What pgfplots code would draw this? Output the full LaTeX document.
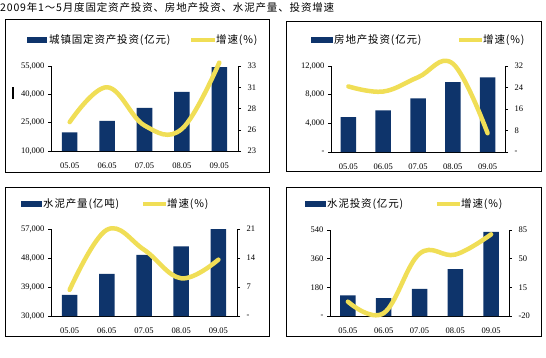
\documentclass[border=0pt]{standalone}
\usepackage{pgfplots}
\pgfplotsset{compat=1.18}
\usepackage{fontspec}
\setmainfont{Liberation Serif}
\newfontfamily\cjk[LetterSpace=8]{Noto Sans CJK SC}
\definecolor{barblue}{RGB}{14,52,107}
\definecolor{lineyel}{RGB}{240,222,86}
\pgfplotsset{
  baraxis/.style={scale only axis, anchor=south west,
    xmin=-0.5, xmax=4.5, axis x line*=bottom, axis y line*=left,
    axis line style={black, line width=0.6pt},
    xtick={0,...,4}, xticklabels={05.05,06.05,07.05,08.05,09.05},
    x tick style={draw=none}, tick align=outside, major tick length=3pt,
    y tick style={black, line width=0.5pt},
    scaled y ticks=false,
    tick label style={font=\fontsize{8.5}{9}\selectfont},
    xticklabel style={yshift=-5pt},
    ybar, bar width=15.5pt, clip=true},
  lineaxis/.style={scale only axis, anchor=south west,
    xmin=-0.5, xmax=4.5, axis x line=none, axis y line*=right,
    axis line style={black, line width=0.6pt},
    tick align=outside, major tick length=3pt,
    y tick style={black, line width=0.5pt},
    scaled y ticks=false,
    tick label style={font=\fontsize{8.5}{9}\selectfont},
    yticklabel style={xshift=3pt},
    clip=false},
  barplot/.style={fill=barblue, draw=none},
  growth/.style={lineyel, line width=4.5pt, smooth, tension=0.65, line cap=round, line join=round, mark=none}
}
\begin{document}
\begin{tikzpicture}
\useasboundingbox (0pt,0pt) rectangle (546pt,357pt);
% title
\node[anchor=west, inner sep=0pt, font=\cjk\fontsize{10.5}{12}\selectfont] at (0pt,349pt) {2009年1～5月度固定资产投资、房地产投资、水泥产量、投资增速};
% frames
\draw[black, line width=0.8pt] (5pt,185pt) rectangle (269pt,338pt);
\draw[black, line width=0.8pt] (286pt,186pt) rectangle (541pt,336pt);
\draw[black, line width=0.8pt] (5pt,21pt) rectangle (269pt,170pt);
\draw[black, line width=0.8pt] (286pt,21pt) rectangle (541pt,170pt);
% cursor artifact
\draw[black, line width=1.6pt] (13pt,258pt) -- (13pt,270pt);

% ---------- Panel 1 ----------
\begin{axis}[baraxis, at={(51pt,206pt)}, width=187pt, height=85pt,
  ymin=10000, ymax=55000, ytick={10000,25000,40000,55000},
  yticklabels={{10,000},{25,000},{40,000},{55,000}}]
\addplot[barplot] coordinates {(0,19800) (1,25900) (2,32800) (3,41300) (4,54400)};
\end{axis}
\begin{axis}[lineaxis, at={(51pt,206pt)}, width=187pt, height=85pt,
  ymin=23, ymax=33, ytick={23,25.5,28,30.5,33}, yticklabels={23,26,28,31,33}]
\addplot[growth] coordinates {(0,26.4) (1,30.5) (2,26.0) (3,25.6) (4,33.4)};
\end{axis}
\fill[barblue] (27pt,314pt) rectangle (47pt,320pt);
\node[anchor=west, inner sep=0pt, font=\cjk\fontsize{10.5}{12}\selectfont] at (49pt,317pt) {城镇固定资产投资(亿元)};
\draw[lineyel, line width=4.5pt] (191pt,317pt) -- (215pt,317pt);
\node[anchor=west, inner sep=0pt, font=\cjk\fontsize{10.5}{12}\selectfont] at (216pt,317pt) {增速(\%)};

% ---------- Panel 2 ----------
\begin{axis}[baraxis, at={(331pt,205pt)}, width=174pt, height=86pt,
  ymin=0, ymax=12000, ytick={0,4000,8000,12000},
  yticklabels={{-},{4,000},{8,000},{12,000}}]
\addplot[barplot] coordinates {(0,4850) (1,5800) (2,7480) (3,9750) (4,10400)};
\end{axis}
\begin{axis}[lineaxis, at={(331pt,205pt)}, width=174pt, height=86pt,
  ymin=0, ymax=32, ytick={0,8,16,24,32}, yticklabels={-,8,16,24,32}]
\addplot[growth] coordinates {(0,24.4) (1,22.5) (2,27.8) (3,32.9) (4,7.0)};
\end{axis}
\fill[barblue] (311pt,314pt) rectangle (333pt,320pt);
\node[anchor=west, inner sep=0pt, font=\cjk\fontsize{10.5}{12}\selectfont] at (334pt,317pt) {房地产投资(亿元)};
\draw[lineyel, line width=4.5pt] (459pt,317pt) -- (482pt,317pt);
\node[anchor=west, inner sep=0pt, font=\cjk\fontsize{10.5}{12}\selectfont] at (483pt,317pt) {增速(\%)};

% ---------- Panel 3 ----------
\begin{axis}[baraxis, at={(51pt,41pt)}, width=186pt, height=87pt,
  ymin=30000, ymax=57000, ytick={30000,39000,48000,57000},
  yticklabels={{30,000},{39,000},{48,000},{57,000}}]
\addplot[barplot] coordinates {(0,36540) (1,43100) (2,49000) (3,51600) (4,57300)};
\end{axis}
\begin{axis}[lineaxis, at={(51pt,41pt)}, width=186pt, height=87pt,
  ymin=0, ymax=21, ytick={0,7,14,21}, yticklabels={-,7,14,21}]
\addplot[growth] coordinates {(0,6.3) (1,20.8) (2,16.0) (3,9.1) (4,13.6)};
\end{axis}
\fill[barblue] (21pt,150pt) rectangle (42pt,156pt);
\node[anchor=west, inner sep=0pt, font=\cjk\fontsize{10.5}{12}\selectfont] at (43pt,153pt) {水泥产量(亿吨)};
\draw[lineyel, line width=4.5pt] (143pt,153pt) -- (166pt,153pt);
\node[anchor=west, inner sep=0pt, font=\cjk\fontsize{10.5}{12}\selectfont] at (167pt,153pt) {增速(\%)};

% ---------- Panel 4 ----------
\begin{axis}[baraxis, at={(330pt,41pt)}, width=179pt, height=86pt,
  ymin=0, ymax=540, ytick={0,180,360,540},
  yticklabels={-,180,360,540}]
\addplot[barplot] coordinates {(0,130) (1,113) (2,170) (3,294) (4,529)};
\end{axis}
\begin{axis}[lineaxis, at={(330pt,41pt)}, width=179pt, height=86pt,
  ymin=-20, ymax=85, ytick={-20,15,50,85}, yticklabels={-20,15,50,85}]
\addplot[growth] coordinates {(0,-2.5) (1,-16.5) (2,56) (3,55) (4,79.7)};
\end{axis}
\fill[barblue] (305pt,150pt) rectangle (326pt,156pt);
\node[anchor=west, inner sep=0pt, font=\cjk\fontsize{10.5}{12}\selectfont] at (327pt,153pt) {水泥投资(亿元)};
\draw[lineyel, line width=4.5pt] (437pt,153pt) -- (460pt,153pt);
\node[anchor=west, inner sep=0pt, font=\cjk\fontsize{10.5}{12}\selectfont] at (461pt,153pt) {增速(\%)};
\end{tikzpicture}
\end{document}
